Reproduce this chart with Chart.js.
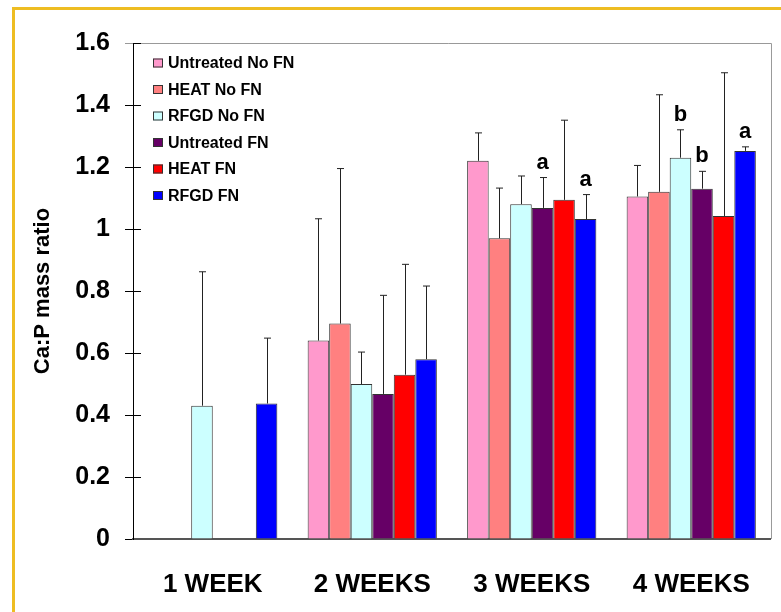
<!DOCTYPE html>
<html>
<head>
<meta charset="utf-8">
<script src="https://cdn.jsdelivr.net/npm/chart.js@4.4.1/dist/chart.umd.min.js"></script>
<style>
  html, body { margin: 0; padding: 0; background: #fff; overflow: hidden; }
  #frame { position: absolute; left: 12px; top: 7px; width: 900px; height: 800px;
           border-left: 3px solid #EEBD22; border-top: 3px solid #EEBD22; }
  #chart { position: absolute; left: 0; top: 0; }
</style>
</head>
<body>
<div id="frame"></div>
<canvas id="chart" width="781" height="612"></canvas>
<script>
var weeks = ['1 WEEK', '2 WEEKS', '3 WEEKS', '4 WEEKS'];
var seriesNames = ['Untreated No FN', 'HEAT No FN', 'RFGD No FN', 'Untreated FN', 'HEAT FN', 'RFGD FN'];
var seriesColors = ['#FF99CC', '#FF8080', '#CCFFFF', '#660066', '#FF0000', '#0000FF'];

// Ca:P mass ratio (mean)
var untreatedNoFN = [null, 0.64, 1.22, 1.105];
var heatNoFN      = [null, 0.695, 0.97, 1.12];
var rfgdNoFN      = [0.43, 0.50, 1.08, 1.23];
var untreatedFN   = [null, 0.468, 1.068, 1.13];
var heatFN        = [null, 0.53, 1.094, 1.042];
var rfgdFN        = [0.437, 0.58, 1.032, 1.252];

// upper error bar (SD)
var untreatedNoFNErr = [null, 0.393, 0.09, 0.10];
var heatNoFNErr      = [null, 0.50, 0.162, 0.313];
var rfgdNoFNErr      = [0.432, 0.103, 0.091, 0.09];
var untreatedFNErr   = [null, 0.318, 0.098, 0.056];
var heatFNErr        = [null, 0.356, 0.257, 0.462];
var rfgdFNErr        = [0.211, 0.236, 0.079, 0.013];

// significance letters: [week index, series index, letter]
var letters = [[2, 3, 'a'], [2, 5, 'a'], [3, 2, 'b'], [3, 3, 'b'], [3, 5, 'a']];

var yTicks = [0, 0.2, 0.4, 0.6, 0.8, 1, 1.2, 1.4, 1.6];

var values = [untreatedNoFN, heatNoFN, rfgdNoFN, untreatedFN, heatFN, rfgdFN];
var errors = [untreatedNoFNErr, heatNoFNErr, rfgdNoFNErr, untreatedFNErr, heatFNErr, rfgdFNErr];

var datasets = [];
for (var i = 0; i < seriesNames.length; i++) {
    datasets.push({
        label: seriesNames[i],
        data: values[i],
        backgroundColor: seriesColors[i],
        borderColor: '#333',
        borderWidth: 1,
        borderSkipped: 'bottom',
        categoryPercentage: 0.81,
        barPercentage: 1.0
    });
}

var FONT = '"Liberation Sans", Arial, sans-serif';

var extras = {
    id: 'extras',
    beforeDatasetsDraw: function(chart) {
        var ctx = chart.ctx, a = chart.chartArea, y = chart.scales.y;
        ctx.save();
        // gray plot border on top and right
        ctx.strokeStyle = '#999';
        ctx.lineWidth = 1;
        ctx.beginPath();
        ctx.moveTo(a.left - 8, a.top + 0.5);
        ctx.lineTo(a.right + 0.5, a.top + 0.5);
        ctx.lineTo(a.right + 0.5, a.bottom);
        ctx.stroke();
        // inner half of the y tick marks
        ctx.strokeStyle = '#000';
        ctx.beginPath();
        yTicks.forEach(function(v) {
            if (v === 0) return;
            var py = Math.round(y.getPixelForValue(v)) + 0.5;
            ctx.moveTo(a.left, py);
            ctx.lineTo(a.left + 8, py);
        });
        ctx.stroke();
        ctx.restore();
    },
    afterDatasetsDraw: function(chart) {
        var ctx = chart.ctx, a = chart.chartArea, y = chart.scales.y;
        ctx.save();
        // error bars (upper only)
        ctx.strokeStyle = '#222';
        ctx.lineWidth = 1;
        for (var d = 0; d < errors.length; d++) {
            var meta = chart.getDatasetMeta(d);
            for (var k = 0; k < weeks.length; k++) {
                if (values[d][k] == null || errors[d][k] == null) continue;
                var bar = meta.data[k];
                var cx = Math.round(bar.x) + 0.5;
                var top = y.getPixelForValue(values[d][k] + errors[d][k]);
                ctx.beginPath();
                ctx.moveTo(cx, bar.y);
                ctx.lineTo(cx, top);
                ctx.moveTo(cx - 3.5, top);
                ctx.lineTo(cx + 3.5, top);
                ctx.stroke();
            }
        }
        // letters
        ctx.fillStyle = '#000';
        ctx.font = 'bold 22px ' + FONT;
        ctx.textAlign = 'center';
        ctx.textBaseline = 'alphabetic';
        letters.forEach(function(l) {
            var w = l[0], s = l[1];
            var bar = chart.getDatasetMeta(s).data[w];
            var top = y.getPixelForValue(values[s][w] + errors[s][w]);
            ctx.fillText(l[2], bar.x, top - 9);
        });
        // legend
        ctx.font = 'bold 16px ' + FONT;
        ctx.textAlign = 'left';
        ctx.textBaseline = 'middle';
        for (var j = 0; j < seriesNames.length; j++) {
            var ry = a.top + 20 + j * 26.5;
            ctx.fillStyle = seriesColors[j];
            ctx.fillRect(a.left + 20, ry - 4.5, 10, 9);
            ctx.strokeStyle = '#333';
            ctx.strokeRect(a.left + 20.5, ry - 4, 9, 8);
            ctx.fillStyle = '#000';
            ctx.fillText(seriesNames[j], a.left + 35, ry + 1);
        }
        ctx.restore();
    }
};

new Chart(document.getElementById('chart'), {
    type: 'bar',
    data: { labels: weeks, datasets: datasets },
    options: {
        responsive: false,
        animation: false,
        events: [],
        layout: { padding: { left: 30, top: 43, right: 10, bottom: 0 } },
        plugins: { legend: { display: false }, tooltip: { enabled: false } },
        scales: {
            x: {
                grid: { display: false, drawTicks: false },
                border: { display: true, color: '#555', width: 2 },
                ticks: { color: '#000', font: { family: FONT, size: 26, weight: 'bold' }, padding: 30 },
                afterFit: function(s) { s.height = 73; }
            },
            y: {
                min: 0,
                max: 1.6,
                afterBuildTicks: function(s) { s.ticks = yTicks.map(function(v) { return { value: v }; }); },
                grid: { display: true, drawOnChartArea: false, drawTicks: true, tickLength: 8, color: '#000' },
                border: { display: true, color: '#000', width: 1 },
                ticks: { color: '#000', font: { family: FONT, size: 25, weight: 'bold' }, padding: 15,
                         callback: function(v) { return String(Math.round(v * 10) / 10); } },
                title: { display: true, text: 'Ca:P mass ratio', color: '#000',
                         font: { family: FONT, size: 22, weight: 'bold' }, padding: { top: 0, bottom: 0 } },
                afterFit: function(s) { s.width = 103; }
            }
        }
    },
    plugins: [extras]
});
</script>
</body>
</html>
